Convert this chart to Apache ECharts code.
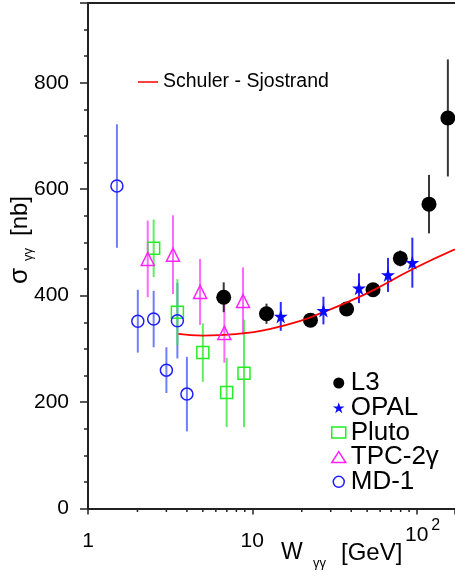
<!DOCTYPE html>
<html>
<head>
<meta charset="utf-8">
<script src="https://cdn.jsdelivr.net/npm/echarts@6/dist/echarts.min.js"></script>
<style>
html,body{margin:0;padding:0;background:#fff;}
#chart{width:455px;height:579px;}
</style>
</head>
<body>
<div id="chart"></div>
<script>
// ---- data ----
const l3W = [6.7, 12.2, 22.6, 37.5, 54.3, 79.6, 119, 155];
const l3Sigma = [397, 366, 354, 375, 411, 470, 572, 734];
const l3Err = [28, 19, 12, 12, 12, 15, 55, 110];

const opalW = [14.9, 27.1, 44.6, 67, 94.2];
const opalSigma = [361, 372, 414, 439, 462];
const opalErr = [27, 26, 28, 32, 47];

const plutoW = [2.51, 3.5, 5.0, 6.98, 8.9];
const plutoSigma = [489, 369, 293, 218, 254];
const plutoErr = [54, 62, 55, 65, 101];

const tpcW = [2.31, 3.29, 4.81, 6.76, 8.78];
const tpcSigma = [469, 477, 407, 330, 390];
const tpcErr = [72, 74, 62, 56, 63];

const md1W = [1.5, 2.01, 2.51, 3.0, 3.5, 4.0];
const md1Sigma = [606, 352, 356, 260, 353, 215];
const md1Err = [116, 59, 53, 43, 71, 70];

const ssW = [3.55, 5.0, 8.75, 12.2, 19.4, 27, 37.4, 54.3, 95, 171];
const ssSigma = [328, 325, 329, 336, 352, 369, 387, 410, 450, 487];

const xMinorTicks = [2, 3, 4, 5, 6, 7, 8, 9, 20, 30, 40, 50, 60, 70, 80, 90];
const yLabelValues = [0, 200, 400, 600, 800];

// ---- chart ----
const FONT = 'Liberation Sans, Arial, sans-serif';
const chart = echarts.init(document.getElementById('chart'), null, {renderer: 'canvas'});

const STAR = 'path://M50,0 L61.2,34.5 L97.6,34.5 L68.2,55.9 L79.4,90.5 L50,69.1 L20.6,90.5 L31.8,55.9 L2.4,34.5 L38.8,34.5 Z';

function pts(w, s) { return w.map((x, i) => [x, s[i]]); }
function errs(w, s, e) { return w.map((x, i) => [x, s[i] - e[i], s[i] + e[i]]); }

function errSeries(name, w, s, e, color) {
  return {
    name: name, type: 'custom', xAxisIndex: 0, yAxisIndex: 0, z: 1, clip: false,
    silent: true,
    data: errs(w, s, e),
    encode: {x: 0, y: [1, 2]},
    renderItem: function (params, api) {
      const lo = api.coord([api.value(0), api.value(1)]);
      const hi = api.coord([api.value(0), api.value(2)]);
      return {type: 'line', shape: {x1: lo[0], y1: lo[1], x2: hi[0], y2: hi[1]},
              style: {stroke: color, lineWidth: 2}};
    }
  };
}

const option = {
  animation: false,
  backgroundColor: '#fff',
  textStyle: {fontFamily: FONT},
  grid: {left: 88, right: 0, top: 3, bottom: 70.5, containLabel: false, outerBoundsMode: 'none'},
  xAxis: [
    {
      type: 'log', logBase: 10, min: 1, max: 171.3, position: 'bottom',
      axisLine: {show: true, lineStyle: {color: '#222', width: 2}},
      axisTick: {show: true, inside: false, length: 6, lineStyle: {color: '#222', width: 1.5}},
      splitLine: {show: false},
      minorTick: {show: false},
      axisLabel: {
        show: true, margin: 43, verticalAlign: 'bottom',
        formatter: function (v) {
          const e = Math.log10(v);
          if (Math.abs(e - Math.round(e)) > 1e-6) return '';
          const r = Math.round(e);
          if (r === 0) return '{t|1}';
          if (r === 1) return '{t|10}';
          if (r === 2) return '{p| }{u|10}{s|2}';
          return '';
        },
        rich: {
          t: {fontSize: 21, lineHeight: 21, fontFamily: FONT, color: '#000', verticalAlign: 'bottom'},
          u: {fontSize: 21, lineHeight: 21, fontFamily: FONT, color: '#000', verticalAlign: 'bottom', padding: [0, 0, 6, 0]},
          s: {fontSize: 16, lineHeight: 16, fontFamily: FONT, color: '#000', verticalAlign: 'bottom', padding: [0, 0, 18, 3]},
          p: {fontSize: 16, lineHeight: 16, width: 12, verticalAlign: 'bottom'}
        }
      }
    },
    {
      type: 'value', position: 'top', min: 0, max: 1,
      axisLine: {show: true, onZero: false, lineStyle: {color: '#222', width: 2}},
      axisTick: {show: false}, axisLabel: {show: false}, splitLine: {show: false}
    }
  ],
  yAxis: [
    {
      type: 'value', min: 0, max: 950, interval: 200, position: 'left',
      axisLine: {show: true, lineStyle: {color: '#222', width: 2}},
      axisTick: {show: true, inside: false, length: 8, lineStyle: {color: '#222', width: 1.5}},
      splitLine: {show: false},
      axisLabel: {
        margin: 19, fontSize: 21, color: '#000', fontFamily: FONT,
        formatter: function (v) { return yLabelValues.indexOf(v) >= 0 ? String(v) : ''; }
      }
    },
    {
      type: 'value', min: 0, max: 950, interval: 50, position: 'left',
      axisLine: {show: false},
      axisTick: {show: true, inside: false, length: 4, lineStyle: {color: '#222', width: 1.5}},
      splitLine: {show: false}, axisLabel: {show: false}
    }
  ],
  legend: [
    {
      orient: 'vertical', left: 331, top: 370, itemGap: -1.3, padding: 0,
      itemWidth: 14, itemHeight: 11, itemSymbolKeepAspect: true,
      textStyle: {fontSize: 26, lineHeight: 25, color: '#000', fontFamily: FONT},
      selectedMode: false,
      data: [
        {name: 'L3', icon: 'circle', itemStyle: {color: '#000', borderWidth: 0}},
        {name: 'OPAL', icon: STAR, itemStyle: {color: '#0a0aff', borderWidth: 0}},
        {name: 'Pluto', icon: 'rect', itemStyle: {color: 'rgba(255,255,255,0)', borderColor: '#22ee22', borderWidth: 1.5}},
        {name: 'TPC-2γ', icon: 'triangle', itemStyle: {color: 'rgba(255,255,255,0)', borderColor: '#ff22ff', borderWidth: 1.5}},
        {name: 'MD-1', icon: 'circle', itemStyle: {color: 'rgba(255,255,255,0)', borderColor: '#1e1eff', borderWidth: 1.5}}
      ]
    },
    {
      orient: 'horizontal', left: 138, top: 72, itemGap: 0, padding: 0,
      itemWidth: 20, itemHeight: 1.5,
      textStyle: {fontSize: 19.5, color: '#000', fontFamily: FONT},
      selectedMode: false,
      data: [{name: 'Schuler - Sjostrand', icon: 'rect', itemStyle: {color: '#ff0000'}}]
    }
  ],
  series: [
    // minor ticks on the log axis
    {
      name: 'minorTicks', type: 'custom', xAxisIndex: 0, yAxisIndex: 0, z: 5, clip: false, silent: true,
      data: xMinorTicks.map(v => [v, 0]),
      renderItem: function (params, api) {
        const p = api.coord([api.value(0), 0]);
        return {type: 'line', shape: {x1: p[0], y1: p[1], x2: p[0], y2: p[1] + 3.5},
                style: {stroke: '#222', lineWidth: 1.5}};
      }
    },
    errSeries('MD-1 err', md1W, md1Sigma, md1Err, 'rgba(50,70,255,0.7)'),
    errSeries('Pluto err', plutoW, plutoSigma, plutoErr, 'rgba(60,230,60,0.8)'),
    errSeries('TPC err', tpcW, tpcSigma, tpcErr, 'rgba(255,70,255,0.8)'),
    errSeries('L3 err', l3W, l3Sigma, l3Err, 'rgba(20,20,20,0.85)'),
    errSeries('OPAL err', opalW, opalSigma, opalErr, 'rgba(20,20,255,0.9)'),
    {
      name: 'L3', type: 'scatter', z: 3, symbol: 'circle', symbolSize: 15,
      itemStyle: {color: '#000', opacity: 1},
      data: pts(l3W, l3Sigma)
    },
    {
      name: 'Schuler - Sjostrand', type: 'line', z: 4, smooth: 0.5,
      symbol: 'none', showSymbol: false,
      lineStyle: {color: '#ff0000', width: 1.8}, itemStyle: {color: '#ff0000'},
      data: pts(ssW, ssSigma)
    },
    {
      name: 'OPAL', type: 'scatter', z: 5, symbol: STAR, symbolSize: 14,
      itemStyle: {color: '#0a0aff', opacity: 1},
      data: pts(opalW, opalSigma)
    },
    {
      name: 'Pluto', type: 'scatter', z: 5, symbol: 'rect', symbolSize: 12,
      itemStyle: {color: 'rgba(255,255,255,0)', borderColor: '#22ee22', borderWidth: 1.5, opacity: 1},
      data: pts(plutoW, plutoSigma)
    },
    {
      name: 'TPC-2γ', type: 'scatter', z: 5, symbol: 'triangle', symbolSize: [13, 13],
      itemStyle: {color: 'rgba(255,255,255,0)', borderColor: '#ff22ff', borderWidth: 1.5, opacity: 1},
      data: pts(tpcW, tpcSigma)
    },
    {
      name: 'MD-1', type: 'scatter', z: 5, symbol: 'circle', symbolSize: 12,
      itemStyle: {color: 'rgba(255,255,255,0)', borderColor: '#1e1eff', borderWidth: 1.5, opacity: 1},
      data: pts(md1W, md1Sigma)
    }
  ],
  graphic: [
    // y-axis title (rotated)
    {type: 'text', x: 19.7, y: 284, rotation: Math.PI / 2, silent: true,
     style: {text: 'σ', fontSize: 26, fontFamily: FONT, fill: '#000', align: 'left', verticalAlign: 'middle'}},
    {type: 'text', x: 28, y: 261, rotation: Math.PI / 2, silent: true,
     style: {text: 'γγ', fontSize: 13, fontFamily: FONT, fill: '#000', align: 'left', verticalAlign: 'middle'}},
    {type: 'text', x: 20.5, y: 236, rotation: Math.PI / 2, silent: true,
     style: {text: '[nb]', fontSize: 24, fontFamily: FONT, fill: '#000', align: 'left', verticalAlign: 'middle'}},
    // x-axis title
    {type: 'text', x: 281, y: 553, silent: true,
     style: {text: 'W', fontSize: 23, fontFamily: FONT, fill: '#000', align: 'left', verticalAlign: 'middle'}},
    {type: 'text', x: 313, y: 563, silent: true,
     style: {text: 'γγ', fontSize: 13, fontFamily: FONT, fill: '#000', align: 'left', verticalAlign: 'middle'}},
    {type: 'text', x: 341, y: 553, silent: true,
     style: {text: '[GeV]', fontSize: 24, fontFamily: FONT, fill: '#000', align: 'left', verticalAlign: 'middle'}}
  ]
};
chart.setOption(option);
</script>
</body>
</html>
